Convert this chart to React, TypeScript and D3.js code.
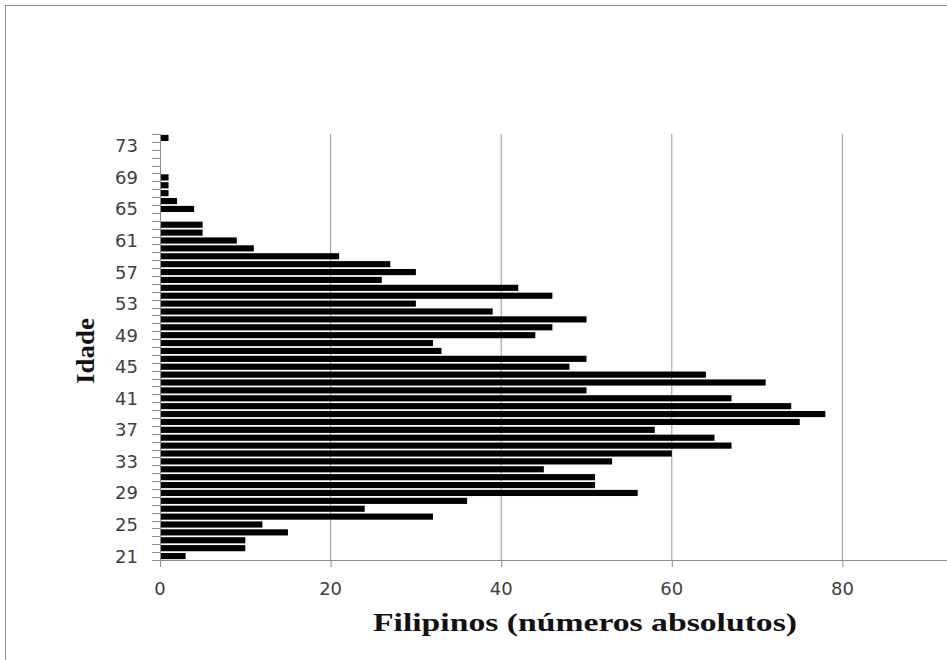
import React from "react";
import * as d3 from "d3";

const ages = [21,22,23,24,25,26,27,28,29,30,31,32,33,34,35,36,37,38,39,40,41,42,43,44,45,46,47,48,49,50,51,52,53,54,55,56,57,58,59,60,61,62,63,64,65,66,67,68,69,70,71,72,73,74];
const counts = [3,10,10,15,12,32,24,36,56,51,51,45,53,60,67,65,58,75,78,74,67,50,71,64,48,50,33,32,44,46,50,39,30,46,42,26,30,27,21,11,9,5,5,0,4,2,1,1,1,0,0,0,0,1];
const yTickLabels = [21,25,29,33,37,41,45,49,53,57,61,65,69,73];
const xTicks = [0,20,40,60,80];

const W = 947, H = 660;
const left = 160, right = 1013, top = 134, bottom = 560;

export default function App() {
  const x = d3.scaleLinear().domain([0, 100]).range([left, right]);
  const y = d3.scaleBand<number>().domain(ages).range([bottom, top]).paddingInner(0.2).paddingOuter(0.1);
  const step = y.step();
  const boundaries = d3.range(ages.length + 1).map(i => bottom - i * ((bottom - top) / ages.length));
  const band = (bottom - top) / ages.length;
  const labelFont = "'DejaVu Sans', sans-serif";
  return (
    <svg width={W} height={H} style={{ position: "fixed", left: 0, top: 0, background: "#fff" }}>
      <rect x={0} y={0} width={W} height={H} fill="#fff" />
      <rect x={5.5} y={5.5} width={W + 20} height={H + 20} fill="none" stroke="#8c8c8c" strokeWidth={1} />
      {xTicks.filter(t => t > 0).map(t => (
        <line key={"g" + t} x1={x(t)} x2={x(t)} y1={top} y2={bottom} stroke="#9a9a9a" strokeWidth={1} />
      ))}
      {ages.map((a, i) => {
        const cy = bottom - (i + 0.5) * band;
        const h = band * 0.78;
        return counts[i] > 0 ? (
          <rect key={a} x={x(0)} y={cy - h / 2} width={x(counts[i]) - x(0)} height={h} fill="#000" />
        ) : null;
      })}
      <line x1={x(0)} x2={W} y1={bottom + 0.5} y2={bottom + 0.5} stroke="#8c8c8c" strokeWidth={1} />
      <line x1={x(0) + 0.5} x2={x(0) + 0.5} y1={top} y2={bottom} stroke="#8c8c8c" strokeWidth={1} />
      {boundaries.map((b, i) => (
        <line key={"yt" + i} x1={152} x2={x(0)} y1={Math.round(b) + 0.5} y2={Math.round(b) + 0.5} stroke="#8c8c8c" strokeWidth={1} />
      ))}
      {xTicks.map(t => (
        <line key={"xt" + t} x1={x(t) + 0.5} x2={x(t) + 0.5} y1={bottom} y2={bottom + 7} stroke="#8c8c8c" strokeWidth={1} />
      ))}
      {yTickLabels.map(a => {
        const i = ages.indexOf(a);
        const cy = bottom - (i + 0.5) * band;
        return (
          <text key={"yl" + a} x={138} y={cy + 6.5} textAnchor="end" fontFamily={labelFont} fontSize={18} fill="#404040">{a}</text>
        );
      })}
      {xTicks.map(t => (
        <text key={"xl" + t} x={x(t)} y={595} textAnchor="middle" fontFamily={labelFont} fontSize={18} fill="#404040">{t}</text>
      ))}
      <text x={373} y={631} fontFamily="'Liberation Serif', serif" fontWeight="bold" fontSize={26} fill="#111" textLength={424} lengthAdjust="spacingAndGlyphs">Filipinos (números absolutos)</text>
      <text transform={`translate(94,384) rotate(-90)`} fontFamily="'Liberation Serif', serif" fontWeight="bold" fontSize={26} fill="#111" textLength={66} lengthAdjust="spacingAndGlyphs">Idade</text>
    </svg>
  );
}
